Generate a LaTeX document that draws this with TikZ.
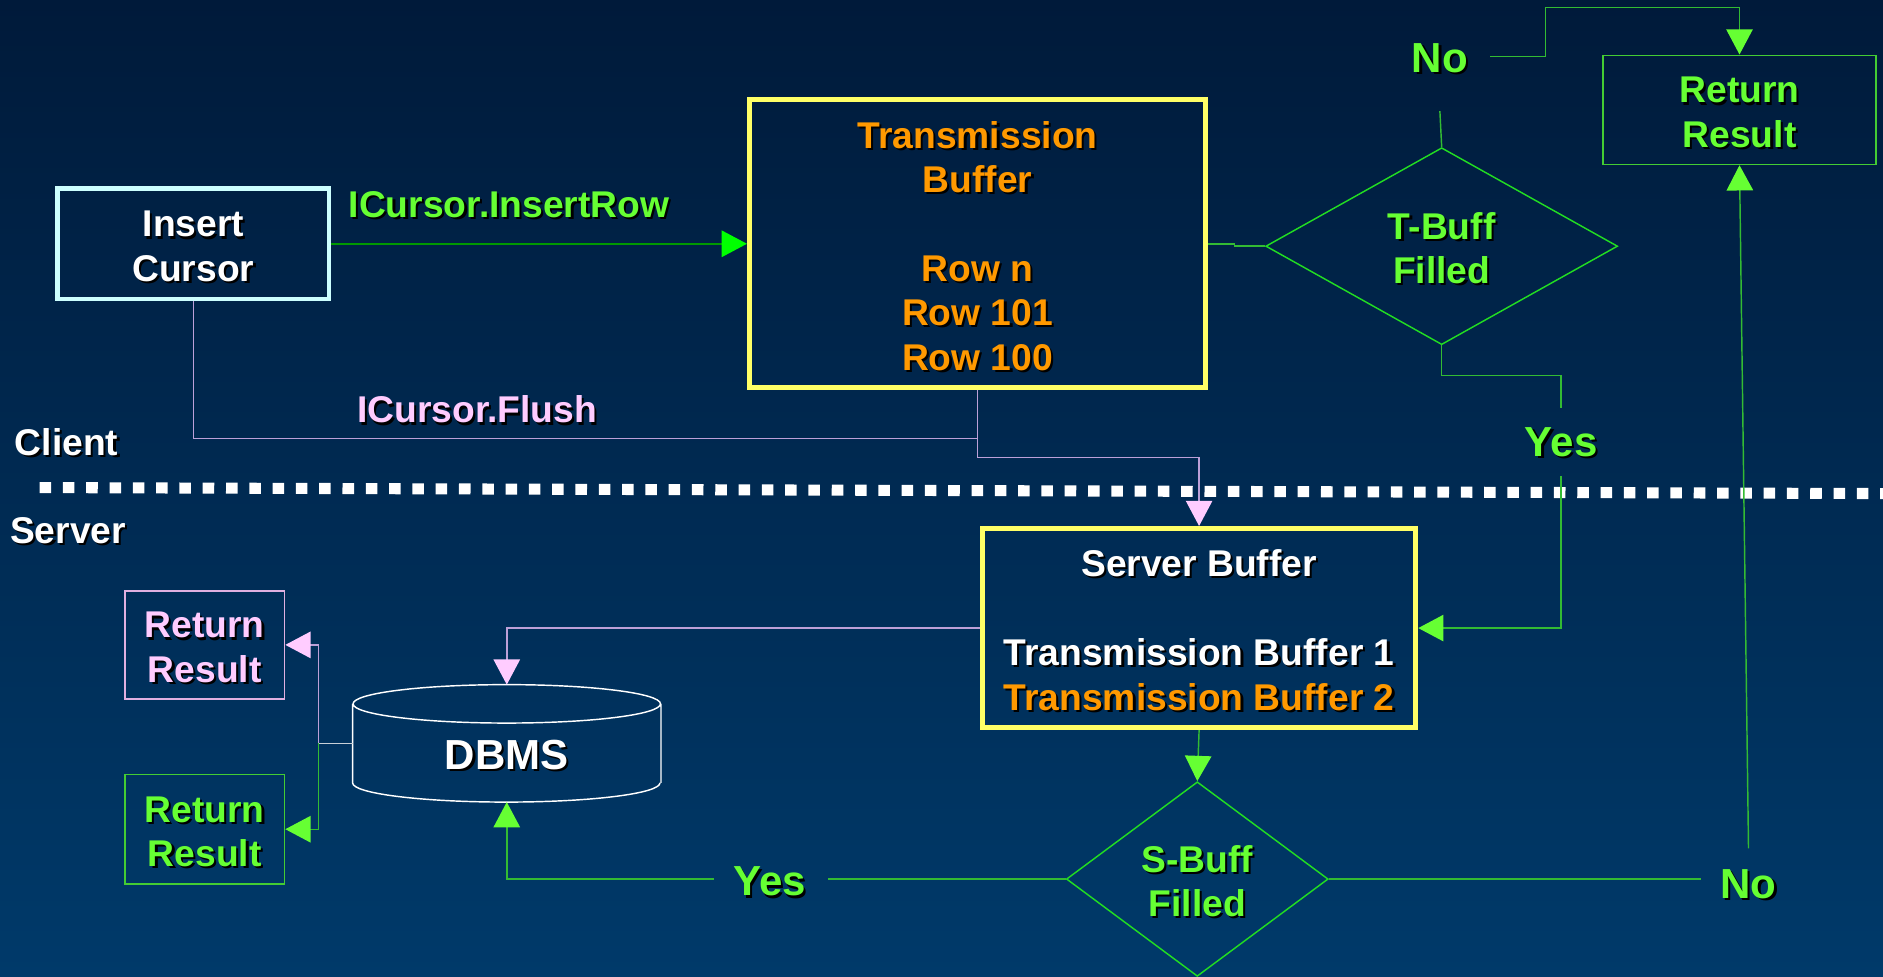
\documentclass[tikz,border=0pt]{standalone}
\usepackage{fontspec}
\setmainfont{Liberation Sans}
\usetikzlibrary{arrows.meta,shapes.geometric,calc}

\definecolor{bgTop}{HTML}{001A3A}
\definecolor{bgBot}{HTML}{003A6A}
\definecolor{cLime}{HTML}{66FF33}
\definecolor{cBright}{HTML}{00FF00}
\definecolor{cDkGreen}{HTML}{009900}
\definecolor{cLine}{HTML}{33BB33}
\definecolor{cDia}{HTML}{22DD22}
\definecolor{cBoxG}{HTML}{44CC33}
\definecolor{cOrange}{HTML}{FF9900}
\definecolor{cYellow}{HTML}{FFFF66}
\definecolor{cCyan}{HTML}{CCFFFF}
\definecolor{cPink}{HTML}{FFCCFF}
\definecolor{cPinkLine}{HTML}{BCA0D8}
\definecolor{cPinkBox}{HTML}{E0B0E0}
\definecolor{cGreyLine}{HTML}{C8D0D8}

% text with a small dark drop shadow
\newcommand\shd[1]{\leavevmode\rlap{\kern0.9pt\raisebox{-0.9pt}{\color{black}#1}}#1}
% extra head room on a first line, to sit the text block a little lower
\newcommand\tp{\rule{0pt}{13.8pt}}
\newcommand\tpbig{\rule{0pt}{14.6pt}}

\tikzset{
  gtip/.tip={Triangle[length=10.5pt,width=11pt,color=cLime]},
  btip/.tip={Triangle[length=10.5pt,width=11pt,color=cBright]},
  ptip/.tip={Triangle[length=10.5pt,width=11pt,color=cPink]},
  base/.style={font=\bfseries\fontsize{15.5}{18.5}\selectfont, inner sep=0pt, align=center},
  big/.style={font=\bfseries\fontsize{17.5}{21}\selectfont, inner sep=0pt},
  thickbox/.style={base, draw, line width=2pt},
  thinbox/.style={base, draw, line width=0.6pt},
  decision/.style={base, diamond, draw=cDia, line width=0.6pt, text=cLime},
  gln/.style={draw=cLine, line width=0.6pt},
  pln/.style={draw=cPinkLine, line width=0.6pt},
  wln/.style={draw=cGreyLine, line width=0.6pt},
  dotrow/.style={draw=white, line width=4.6pt, dash pattern=on 4.8pt off 4.9pt}
}

\begin{document}
\begin{tikzpicture}[x=0.5pt,y=-0.5pt]
  % background
  \shade[top color=bgTop, bottom color=bgBot] (0,0) rectangle (1568,813);
  \useasboundingbox (0,0) rectangle (1568,813);

  % client / server divider
  \coordinate (dl) at (33,406);
  \coordinate (dr) at (1568,411);
  \draw[dotrow] (dl) -- (dr);

  % boxes
  \node[thickbox, draw=cCyan, text=white, minimum width=113pt, minimum height=46pt] (ic) at (161,203)
    {\tp\shd{Insert}\\\shd{Cursor}};
  \node[thickbox, draw=cYellow, text=cOrange, minimum width=190pt, minimum height=120pt] (tb) at (814,203)
    {\tp\shd{Transmission}\\\shd{Buffer}\\[18.5pt]\shd{Row n}\\\shd{Row 101}\\\shd{Row 100}};
  \node[thickbox, draw=cYellow, text=white, minimum width=180.5pt, minimum height=83pt] (sb) at (998.5,523)
    {\tp\shd{Server Buffer}\\[18.5pt]\shd{Transmission Buffer 1}\\{\color{cOrange}\shd{Transmission Buffer 2}}};
  \node[thinbox, draw=cBoxG, text=cLime, minimum width=113.5pt, minimum height=45.5pt] (rrtop) at (1448.5,91.5)
    {\tp\shd{Return}\\\shd{Result}};
  \node[thinbox, draw=cPinkBox, text=cPink, minimum width=66.5pt, minimum height=45pt] (rrp) at (170.5,537)
    {\tp\shd{Return}\\\shd{Result}};
  \node[thinbox, draw=cBoxG, text=cLime, minimum width=66.5pt, minimum height=45.5pt] (rrg) at (170.5,690.5)
    {\tp\shd{Return}\\\shd{Result}};

  % decisions
  \node[decision, minimum width=146.5pt, minimum height=82pt] (tdia) at (1200.5,205)
    {\tp\shd{T-Buff}\\\shd{Filled}};
  \node[decision, minimum width=109pt, minimum height=81pt] (sdia) at (997,732)
    {\tp\shd{S-Buff}\\\shd{Filled}};

  % database
  \node[big, text=white, minimum width=128pt, minimum height=40.5pt] (dbms) at (422,627) {\tpbig\shd{DBMS}};
  \draw[white, line width=0.6pt]
    (dbms.north) ellipse [x radius=64pt, y radius=8pt]
    (dbms.north west) -- ($(dbms.south west)+(0,8pt)$)
    (dbms.north east) -- ($(dbms.south east)+(0,8pt)$)
    ($(dbms.south west)+(0,8pt)$) arc [start angle=180, end angle=360, x radius=64pt, y radius=8pt];

  % labels
  \node[base, text=cLime, anchor=west] (lins) at (290,171) {\shd{ICursor.InsertRow}};
  \node[base, text=cPink, anchor=west] (lflush) at (297,342) {\shd{ICursor.Flush}};
  \node[base, text=white, anchor=west] (lclient) at (12,369) {\shd{Client}};
  \node[base, text=white, anchor=west] (lserver) at (8,443) {\shd{Server}};
  \node[big, text=cLime] (notop) at (1199,49) {\shd{No}};
  \node[big, text=cLime] (yestop) at (1300,369) {\shd{Yes}};
  \node[big, text=cLime] (yesbot) at (641,735) {\shd{Yes}};
  \node[big, text=cLime] (nobot) at (1456,737) {\shd{No}};

  % client side flow
  \draw[draw=cDkGreen, line width=0.6pt, -btip] (ic.east) -- (tb.west);
  \draw[gln] (tb.east) -- ++(11pt,0) |- (tdia.west);
  \draw[gln] (tdia.north) -- ([yshift=-15pt]notop.south);
  \draw[gln, -gtip] ([xshift=9pt,yshift=1pt]notop.east) -- ++(23pt,0) |- ($(rrtop.north)+(0,19.5pt)$) -- (rrtop.north);
  \draw[gln] (tdia.south) -- ++(0,-12.5pt) -| ([yshift=8pt]yestop.north);
  \draw[gln, -gtip] ([yshift=-7pt]yestop.south) |- (sb.east);

  % flush path
  \coordinate (fj) at (814,365);
  \draw[pln] (ic.south) |- (fj);
  \draw[pln, -ptip] (tb.south) -- (fj) -- ++(0,-8pt) -| (sb.north);

  % server side flow
  \draw[pln, -ptip] (sb.west) -| ($(dbms.north)+(0,8pt)$);
  \coordinate (dj) at (265,619);
  \draw[wln] ($(dbms.west)+(0,4pt)$) -- (dj);
  \draw[pln, -ptip] (dj) |- (rrp.east);
  \draw[gln, -gtip] (dj) |- (rrg.east);
  \draw[gln, -gtip] (sb.south) -- (sdia.north);
  \draw[gln] (sdia.west) -- ($(sdia.west -| yesbot.east)+(9pt,0)$);
  \draw[gln, -gtip] ($(sdia.west -| yesbot.west)+(-8pt,0)$) -| (dbms.south);
  \draw[gln] (sdia.east) -- ($(sdia.east -| nobot.west)+(-8pt,0)$);
  \draw[gln, -gtip] ([yshift=8.5pt]nobot.north) -- (rrtop.south);
\end{tikzpicture}
\end{document}
